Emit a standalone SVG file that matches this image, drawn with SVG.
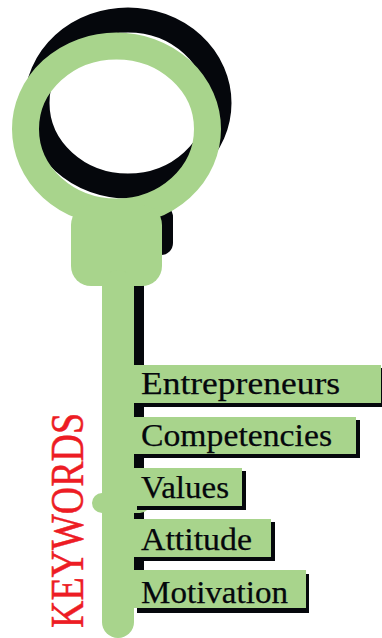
<svg xmlns="http://www.w3.org/2000/svg" width="382" height="638" viewBox="0 0 382 638">
<style>
.g{fill:#a8d48c}
.k{fill:#05070c}
.t{font-family:"Liberation Serif",serif;font-size:32px;fill:#05070c;stroke:#05070c;stroke-width:.25px}
</style>
<rect width="382" height="638" fill="#fff"/>
<g id="key-shadow">
<ellipse cx="128" cy="103" rx="91" ry="83" fill="none" stroke="#05070c" stroke-width="25"/>
<rect x="130" y="205" width="43" height="50" rx="12" class="k"/>
<rect x="130" y="280" width="14" height="310" class="k"/>
</g>
<g id="key">
<ellipse cx="116.500" cy="129" rx="91" ry="83" fill="none" stroke="#a8d48c" stroke-width="27"/>
<rect x="71" y="205" width="91" height="81" rx="20" class="g"/>
<rect x="102" y="270" width="32" height="368" rx="16" class="g"/>
<rect x="92" y="493" width="58" height="20" rx="10" class="g"/>
</g>
<g id="entrepreneurs">
<rect x="137" y="368" width="245" height="39" class="k"/>
<rect x="134" y="365" width="247" height="38" class="g"/>
<text class="t" x="141" y="394" textLength="199" lengthAdjust="spacingAndGlyphs">Entrepreneurs</text>
</g>
<g id="competencies">
<rect x="137" y="420" width="223" height="38" class="k"/>
<rect x="134" y="417" width="222" height="37" class="g"/>
<text class="t" x="141" y="446" textLength="191" lengthAdjust="spacingAndGlyphs">Competencies</text>
</g>
<g id="values">
<rect x="137" y="471" width="109" height="39" class="k"/>
<rect x="134" y="468" width="108" height="38" class="g"/>
<text class="t" x="141" y="498" textLength="88" lengthAdjust="spacingAndGlyphs">Values</text>
</g>
<g id="attitude">
<rect x="137" y="522" width="138" height="39" class="k"/>
<rect x="134" y="519" width="137" height="38" class="g"/>
<text class="t" x="141" y="550" textLength="111" lengthAdjust="spacingAndGlyphs">Attitude</text>
</g>
<g id="motivation">
<rect x="137" y="574" width="172" height="39" class="k"/>
<rect x="134" y="570" width="172" height="38" class="g"/>
<text class="t" x="141" y="603" textLength="147" lengthAdjust="spacingAndGlyphs">Motivation</text>
</g>
<g id="keywords">
<text transform="translate(83 628) rotate(-90)" font-family="'Liberation Serif',serif" font-size="46" fill="#ed1c24" stroke="#ed1c24" stroke-width=".5" textLength="215" lengthAdjust="spacingAndGlyphs">KEYWORDS</text>
</g>
</svg>
